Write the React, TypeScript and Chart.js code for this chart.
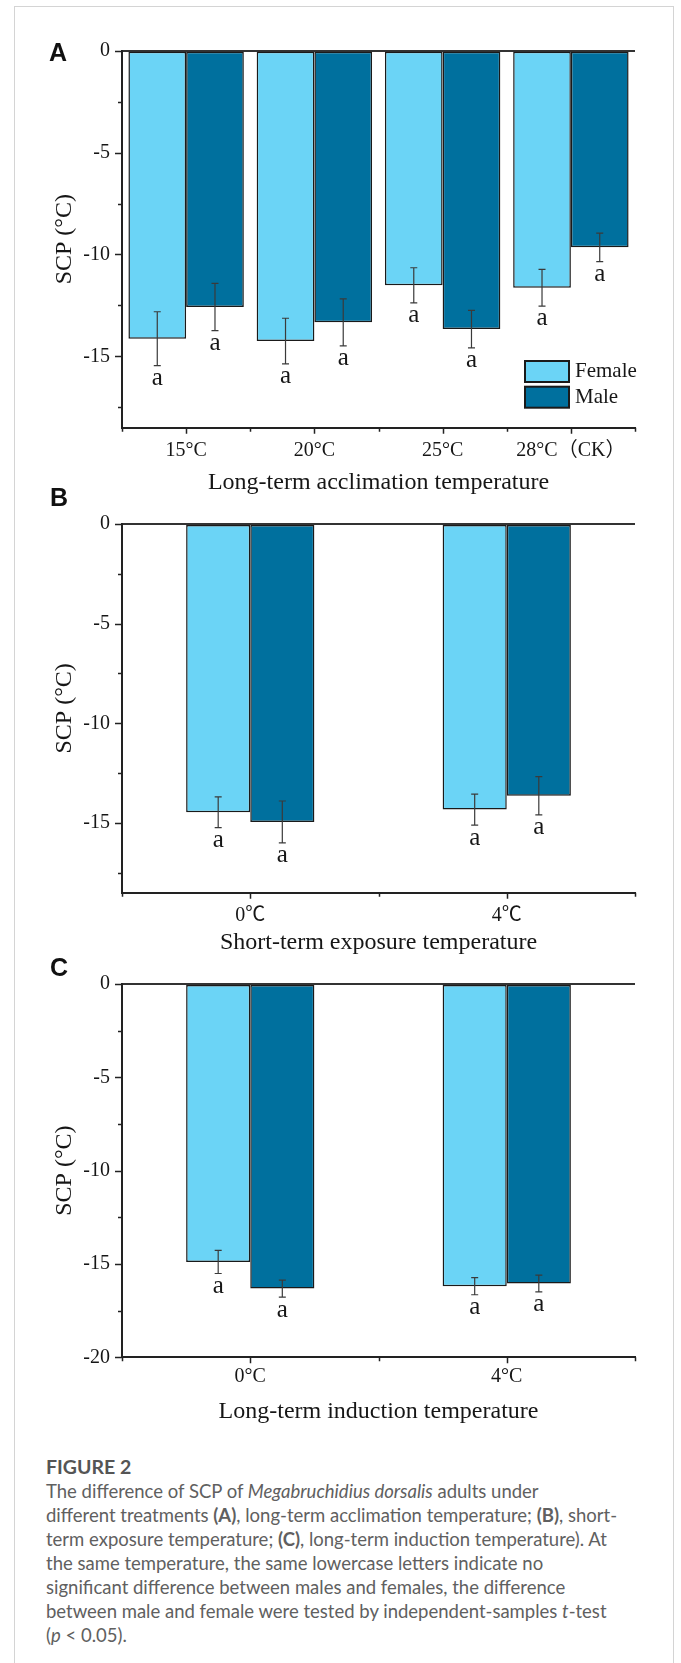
import React, { useEffect, useRef } from 'react';
import { Chart, registerables } from 'chart.js';

Chart.register(...registerables);

const SERIF = '"Liberation Serif", "Times New Roman", "Noto Sans CJK SC", serif';

// ---------- data ----------
const seriesNames = ['Female', 'Male'];

const categoriesA = ['15°C', '20°C', '25°C', '28°C（CK）'];
const femaleA = [-14.13, -14.25, -11.51, -11.63];
const femaleErrA = [1.32, 1.12, 0.86, 0.9];
const maleA = [-12.58, -13.33, -13.66, -9.65];
const maleErrA = [1.16, 1.15, 0.92, 0.7];
const lettersFemaleA = ['a', 'a', 'a', 'a'];
const lettersMaleA = ['a', 'a', 'a', 'a'];

const categoriesB = ['0℃', '4℃'];
const femaleB = [-14.46, -14.33];
const femaleErrB = [0.77, 0.78];
const maleB = [-14.95, -13.64];
const maleErrB = [1.05, 0.96];
const lettersFemaleB = ['a', 'a'];
const lettersMaleB = ['a', 'a'];

const categoriesC = ['0°C', '4°C'];
const femaleC = [-14.89, -16.19];
const femaleErrC = [0.62, 0.46];
const maleC = [-16.32, -16.05];
const maleErrC = [0.46, 0.45];
const lettersFemaleC = ['a', 'a'];
const lettersMaleC = ['a', 'a'];

const yMajorAB = [0, -5, -10, -15];
const yMinorAB = [-2.5, -7.5, -12.5, -17.5];
const yMajorC = [0, -5, -10, -15, -20];
const yMinorC = [-2.5, -7.5, -12.5, -17.5];

const yTitle = 'SCP (°C)';
const xTitleA = 'Long-term acclimation temperature';
const xTitleB = 'Short-term exposure temperature';
const xTitleC = 'Long-term induction temperature';

const FEMALE_COLOR = '#6BD4F6';
const MALE_COLOR = '#00709E';
const INK = '#161616';

type PanelProps = {
  top: number;
  height: number;
  padTop: number;
  xHeight: number;
  titlePad: number;
  tickPad: number;
  categories: string[];
  female: number[];
  femaleErr: number[];
  male: number[];
  maleErr: number[];
  lettersF: string[];
  lettersM: string[];
  yMin: number;
  yMajor: number[];
  yMinor: number[];
  xTitle: string;
  categoryPercentage: number;
  legend: boolean;
};

function Panel(p: PanelProps) {
  const ref = useRef<HTMLCanvasElement | null>(null);
  useEffect(() => {
    if (!ref.current) return;
    const errs = [p.femaleErr, p.maleErr];
    const letters = [p.lettersF, p.lettersM];
    const overlay = {
      id: 'overlay',
      afterDraw(chart: any) {
        const ctx = chart.ctx as CanvasRenderingContext2D;
        const ys = chart.scales.y;
        const xs = chart.scales.x;
        const area = chart.chartArea;
        ctx.save();
        // error bars + letters
        for (let di = 0; di < 2; di++) {
          const meta = chart.getDatasetMeta(di);
          meta.data.forEach((bar: any, i: number) => {
            const v = chart.data.datasets[di].data[i] as number;
            const e = errs[di][i];
            const y1 = ys.getPixelForValue(v + e);
            const y2 = ys.getPixelForValue(v - e);
            ctx.strokeStyle = '#3a3a3a';
            ctx.lineWidth = 1.2;
            ctx.beginPath();
            ctx.moveTo(bar.x, y1);
            ctx.lineTo(bar.x, y2);
            ctx.moveTo(bar.x - 3.5, y1);
            ctx.lineTo(bar.x + 3.5, y1);
            ctx.moveTo(bar.x - 3.5, y2);
            ctx.lineTo(bar.x + 3.5, y2);
            ctx.stroke();
            ctx.fillStyle = INK;
            ctx.font = `25px ${SERIF}`;
            ctx.textAlign = 'center';
            ctx.textBaseline = 'middle';
            ctx.fillText(letters[di][i], bar.x, y2 + 12.8);
          });
        }
        // y ticks
        ctx.strokeStyle = '#222';
        ctx.lineWidth = 1.5;
        ctx.beginPath();
        p.yMajor.forEach((v) => {
          const py = Math.round(ys.getPixelForValue(v)) + 0.5;
          ctx.moveTo(area.left - 7, py);
          ctx.lineTo(area.left, py);
        });
        p.yMinor.forEach((v) => {
          const py = Math.round(ys.getPixelForValue(v)) + 0.5;
          ctx.moveTo(area.left - 4, py);
          ctx.lineTo(area.left, py);
        });
        // x ticks
        const n = p.categories.length;
        for (let i = 0; i < n; i++) {
          const px = Math.round(xs.getPixelForValue(i)) + 0.5;
          ctx.moveTo(px, area.bottom);
          ctx.lineTo(px, area.bottom + 6);
        }
        for (let i = 0; i <= n; i++) {
          const px = Math.round(xs.getPixelForValue(i - 0.5)) + 0.5;
          ctx.moveTo(px, area.bottom);
          ctx.lineTo(px, area.bottom + 4);
        }
        ctx.stroke();
        // legend
        if (p.legend) {
          const colors = [FEMALE_COLOR, MALE_COLOR];
          const bx = area.right - 110;
          const tops = [area.bottom - 66.7, area.bottom - 41];
          for (let k = 0; k < 2; k++) {
            ctx.fillStyle = colors[k];
            ctx.fillRect(bx, tops[k], 44, 21);
            ctx.strokeStyle = '#1a1a1a';
            ctx.lineWidth = 2;
            ctx.strokeRect(bx, tops[k], 44, 21);
            ctx.fillStyle = INK;
            ctx.font = `21px ${SERIF}`;
            ctx.textAlign = 'left';
            ctx.textBaseline = 'middle';
            ctx.fillText(seriesNames[k], bx + 50, tops[k] + 10.5);
          }
        }
        ctx.restore();
      },
    };

    const chart = new Chart(ref.current, {
      type: 'bar',
      data: {
        labels: p.categories,
        datasets: [
          {
            label: seriesNames[0],
            data: p.female,
            backgroundColor: FEMALE_COLOR,
            borderColor: '#1a1a1a',
            borderWidth: 1.5,
            borderSkipped: false,
            barPercentage: 1,
            categoryPercentage: p.categoryPercentage,
          },
          {
            label: seriesNames[1],
            data: p.male,
            backgroundColor: MALE_COLOR,
            borderColor: '#1a1a1a',
            borderWidth: 1.5,
            borderSkipped: false,
            barPercentage: 1,
            categoryPercentage: p.categoryPercentage,
          },
        ],
      },
      options: {
        responsive: false,
        animation: false,
        events: [],
        layout: { padding: { left: 0, right: 46, top: p.padTop, bottom: 0 } },
        plugins: { legend: { display: false }, tooltip: { enabled: false } },
        scales: {
          x: {
            grid: { display: false, drawTicks: false },
            border: { display: true, color: '#222', width: 2 },
            ticks: {
              padding: p.tickPad,
              font: { family: SERIF, size: 20 },
              color: INK,
              maxRotation: 0,
              autoSkip: false,
            },
            title: {
              display: true,
              text: p.xTitle,
              font: { family: SERIF, size: 24 },
              color: INK,
              padding: { top: 0, bottom: p.titlePad },
            },
            afterFit: (s: any) => {
              s.height = p.xHeight;
            },
          },
          y: {
            min: p.yMin,
            max: 0,
            afterBuildTicks: (s: any) => {
              s.ticks = p.yMajor.map((v) => ({ value: v }));
            },
            grid: {
              display: true,
              drawTicks: false,
              lineWidth: 2,
              color: (c: any) => (c.tick && c.tick.value === 0 ? '#333' : 'rgba(0,0,0,0)'),
            },
            border: { display: true, color: '#222', width: 2 },
            ticks: {
              padding: 12,
              font: { family: SERIF, size: 20 },
              color: INK,
              callback: (v: any) => String(v),
            },
            title: {
              display: true,
              text: yTitle,
              font: { family: SERIF, size: 24 },
              color: INK,
              padding: { top: 50.6, bottom: 0 },
            },
            afterFit: (s: any) => {
              s.width = 122;
            },
          },
        },
      },
      plugins: [overlay],
    } as any);
    return () => chart.destroy();
  }, []);
  return (
    <canvas
      ref={ref}
      width={681}
      height={p.height}
      style={{ position: 'absolute', left: 0, top: p.top, width: 681, height: p.height }}
    />
  );
}

const letterStyle: React.CSSProperties = {
  position: 'absolute',
  fontFamily: '"Liberation Sans", Arial, sans-serif',
  fontWeight: 700,
  fontSize: 25,
  lineHeight: '25px',
  color: '#111',
};

const captionLines: React.ReactNode[] = [
  <>The difference of SCP of <i>Megabruchidius dorsalis</i> adults under</>,
  <>different treatments <b>(A)</b>, long-term acclimation temperature; <b>(B)</b>, short-</>,
  <>term exposure temperature; <b>(C)</b>, long-term induction temperature). At</>,
  <>the same temperature, the same lowercase letters indicate no</>,
  <>significant difference between males and females, the difference</>,
  <>between male and female were tested by independent-samples <i>t</i>-test</>,
  <>(<i>p</i> &lt; 0.05).</>,
];

export default function App() {
  return (
    <div style={{ position: 'absolute', left: 0, top: 0, width: 681, height: 1663, background: '#fff', overflow: 'hidden' }}>
      <div
        style={{
          position: 'absolute',
          left: 14,
          top: 6,
          width: 660,
          height: 1700,
          border: '1px solid #d4d4d4',
          boxSizing: 'border-box',
        }}
      />
      <Panel
        top={0}
        height={500}
        padTop={50.7}
        xHeight={72.3}
        titlePad={3}
        tickPad={10.6}
        categories={categoriesA}
        female={femaleA}
        femaleErr={femaleErrA}
        male={maleA}
        maleErr={maleErrA}
        lettersF={lettersFemaleA}
        lettersM={lettersMaleA}
        yMin={-18.5}
        yMajor={yMajorAB}
        yMinor={yMinorAB}
        xTitle={xTitleA}
        categoryPercentage={0.9}
        legend={true}
      />
      <Panel
        top={500}
        height={460}
        padTop={15}
        xHeight={67.3}
        titlePad={3}
        tickPad={10.6}
        categories={categoriesB}
        female={femaleB}
        femaleErr={femaleErrB}
        male={maleB}
        maleErr={maleErrB}
        lettersF={lettersFemaleB}
        lettersM={lettersMaleB}
        yMin={-18.5}
        yMajor={yMajorAB}
        yMinor={yMinorAB}
        xTitle={xTitleB}
        categoryPercentage={0.5}
        legend={false}
      />
      <Panel
        top={960}
        height={480}
        padTop={19}
        xHeight={82.7}
        titlePad={13.8}
        tickPad={7.6}
        categories={categoriesC}
        female={femaleC}
        femaleErr={femaleErrC}
        male={maleC}
        maleErr={maleErrC}
        lettersF={lettersFemaleC}
        lettersM={lettersMaleC}
        yMin={-20}
        yMajor={yMajorC}
        yMinor={yMinorC}
        xTitle={xTitleC}
        categoryPercentage={0.5}
        legend={false}
      />
      <div style={{ ...letterStyle, left: 49, top: 40 }}>A</div>
      <div style={{ ...letterStyle, left: 50, top: 485 }}>B</div>
      <div style={{ ...letterStyle, left: 50, top: 955 }}>C</div>
      <div
        style={{
          position: 'absolute',
          left: 46,
          top: 1455,
          fontFamily: 'Lato, "Noto Sans", sans-serif',
          fontSize: 18.5,
          lineHeight: '24px',
          color: '#606060',
          whiteSpace: 'nowrap',
        }}
      >
        <div style={{ fontWeight: 700, fontSize: 19.5, color: '#555' }}>FIGURE 2</div>
        {captionLines.map((l, i) => (
          <div key={i}>{l}</div>
        ))}
      </div>
    </div>
  );
}
